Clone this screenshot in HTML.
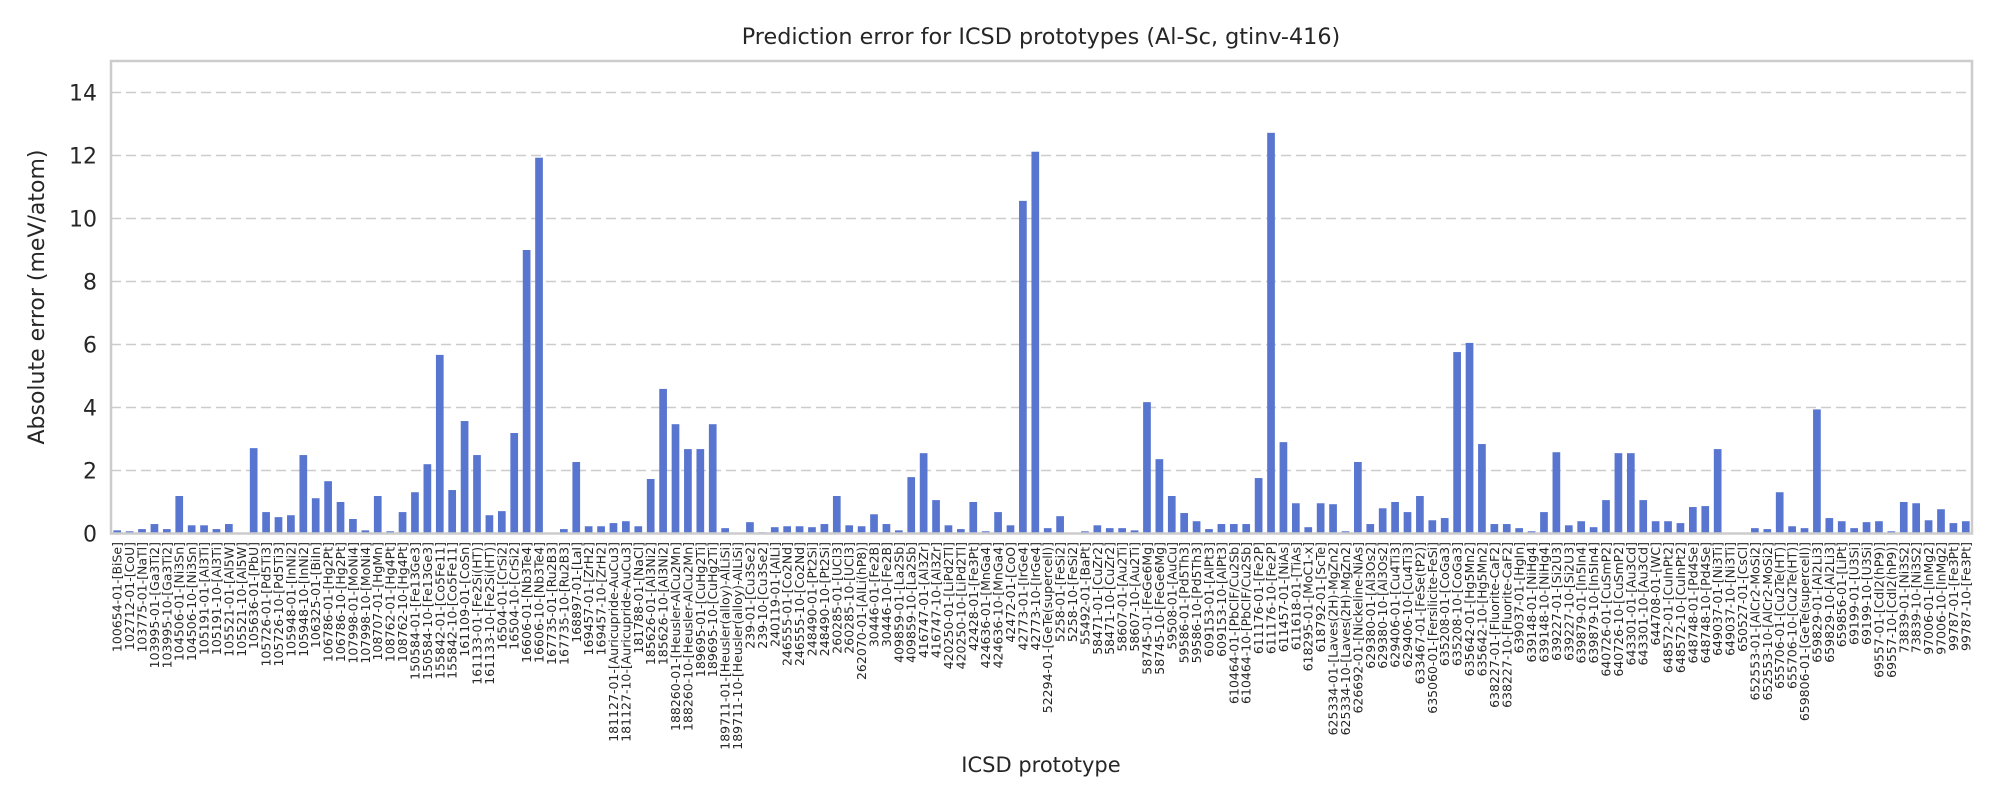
<!DOCTYPE html>
<html><head><meta charset="utf-8"><style>
html,body{margin:0;padding:0;background:#fff;}
svg{display:block;font-family:"DejaVu Sans","Liberation Sans",sans-serif;}
</style></head><body>
<svg id="chart" width="2000" height="800" viewBox="0 0 2000 800" xmlns="http://www.w3.org/2000/svg">
<rect width="2000" height="800" fill="#fff"/>
<text x="1041" y="44" font-size="22.3" text-anchor="middle" fill="#262626">Prediction error for ICSD prototypes (Al-Sc, gtinv-416)</text>
<text transform="translate(44,297) rotate(-90)" font-size="22" text-anchor="middle" fill="#262626">Absolute error (meV/atom)</text>
<text x="1041" y="772" font-size="21" text-anchor="middle" fill="#262626">ICSD prototype</text>
<g id="grid"></g><g id="bars"></g><g id="yticks"></g><g id="xticks"></g>
<rect x="111" y="61" width="1861" height="472.5" fill="none" stroke="#cccccc" stroke-width="2.5"/>
</svg>
<script>
const categories = ["100654-01-[BiSe]","102712-01-[CoU]","103775-01-[NaTl]","103995-01-[Ga3Ti2]","103995-10-[Ga3Ti2]","104506-01-[Ni3Sn]","104506-10-[Ni3Sn]","105191-01-[Al3Ti]","105191-10-[Al3Ti]","105521-01-[Al5W]","105521-10-[Al5W]","105636-01-[PbU]","105726-01-[Pd5Ti3]","105726-10-[Pd5Ti3]","105948-01-[InNi2]","105948-10-[InNi2]","106325-01-[BiIn]","106786-01-[Hg2Pt]","106786-10-[Hg2Pt]","107998-01-[MoNi4]","107998-10-[MoNi4]","108707-01-[HgMn]","108762-01-[Hg4Pt]","108762-10-[Hg4Pt]","150584-01-[Fe13Ge3]","150584-10-[Fe13Ge3]","155842-01-[Co5Fe11]","155842-10-[Co5Fe11]","161109-01-[CoSn]","161133-01-[Fe2Si(HT)]","161133-10-[Fe2Si(HT)]","16504-01-[CrSi2]","16504-10-[CrSi2]","16606-01-[Nb3Te4]","16606-10-[Nb3Te4]","167735-01-[Ru2B3]","167735-10-[Ru2B3]","168897-01-[LaI]","169457-01-[ZrH2]","169457-10-[ZrH2]","181127-01-[Auricupride-AuCu3]","181127-10-[Auricupride-AuCu3]","181788-01-[NaCl]","185626-01-[Al3Ni2]","185626-10-[Al3Ni2]","188260-01-[Heusler-AlCu2Mn]","188260-10-[Heusler-AlCu2Mn]","189695-01-[CuHg2Ti]","189695-10-[CuHg2Ti]","189711-01-[Heusler(alloy)-AlLiSi]","189711-10-[Heusler(alloy)-AlLiSi]","239-01-[Cu3Se2]","239-10-[Cu3Se2]","240119-01-[AlLi]","246555-01-[Co2Nd]","246555-10-[Co2Nd]","248490-01-[Pt2Si]","248490-10-[Pt2Si]","260285-01-[UCl3]","260285-10-[UCl3]","262070-01-[AlLi(hP8)]","30446-01-[Fe2B]","30446-10-[Fe2B]","409859-01-[La2Sb]","409859-10-[La2Sb]","416747-01-[Al3Zr]","416747-10-[Al3Zr]","420250-01-[LiPd2Tl]","420250-10-[LiPd2Tl]","42428-01-[Fe3Pt]","424636-01-[MnGa4]","424636-10-[MnGa4]","42472-01-[CoO]","42773-01-[IrGe4]","42773-10-[IrGe4]","52294-01-[GeTe(supercell)]","5258-01-[FeSi2]","5258-10-[FeSi2]","55492-01-[BaPt]","58471-01-[CuZr2]","58471-10-[CuZr2]","58607-01-[Au2Ti]","58607-10-[Au2Ti]","58745-01-[FeGe6Mg]","58745-10-[FeGe6Mg]","59508-01-[AuCu]","59586-01-[Pd5Th3]","59586-10-[Pd5Th3]","609153-01-[AlPt3]","609153-10-[AlPt3]","610464-01-[PbClF/Cu2Sb]","610464-10-[PbClF/Cu2Sb]","611176-01-[Fe2P]","611176-10-[Fe2P]","611457-01-[NiAs]","611618-01-[TiAs]","618295-01-[MoC1-x]","618792-01-[ScTe]","625334-01-[Laves(2H)-MgZn2]","625334-10-[Laves(2H)-MgZn2]","626692-01-[Nickeline-NiAs]","629380-01-[Al3Os2]","629380-10-[Al3Os2]","629406-01-[Cu4Ti3]","629406-10-[Cu4Ti3]","633467-01-[FeSe(tP2)]","635060-01-[Fersilicite-FeSi]","635208-01-[CoGa3]","635208-10-[CoGa3]","635642-01-[Hg5Mn2]","635642-10-[Hg5Mn2]","638227-01-[Fluorite-CaF2]","638227-10-[Fluorite-CaF2]","639037-01-[HgIn]","639148-01-[NiHg4]","639148-10-[NiHg4]","639227-01-[Si2U3]","639227-10-[Si2U3]","639879-01-[In5In4]","639879-10-[In5In4]","640726-01-[CuSmP2]","640726-10-[CuSmP2]","643301-01-[Au3Cd]","643301-10-[Au3Cd]","644708-01-[WC]","648572-01-[CuInPt2]","648572-10-[CuInPt2]","648748-01-[Pd4Se]","648748-10-[Pd4Se]","649037-01-[Ni3Ti]","649037-10-[Ni3Ti]","650527-01-[CsCl]","652553-01-[AlCr2-MoSi2]","652553-10-[AlCr2-MoSi2]","655706-01-[Cu2Te(HT)]","655706-10-[Cu2Te(HT)]","659806-01-[GeTe(supercell)]","659829-01-[Al2Li3]","659829-10-[Al2Li3]","659856-01-[LiPt]","69199-01-[U3Si]","69199-10-[U3Si]","69557-01-[CdI2(hP9)]","69557-10-[CdI2(hP9)]","73839-01-[Ni3S2]","73839-10-[Ni3S2]","97006-01-[InMg2]","97006-10-[InMg2]","99787-01-[Fe3Pt]","99787-10-[Fe3Pt]"];
const errors = [0.1,0.07,0.14,0.3,0.14,1.19,0.26,0.26,0.14,0.3,0,2.71,0.68,0.52,0.58,2.49,1.12,1.66,1.0,0.46,0.1,1.19,0.07,0.68,1.31,2.2,5.67,1.38,3.57,2.49,0.58,0.71,3.19,9.0,11.93,0,0.14,2.27,0.23,0.23,0.33,0.39,0.23,1.73,4.59,3.47,2.68,2.68,3.47,0.17,0,0.36,0.04,0.2,0.23,0.23,0.2,0.3,1.19,0.26,0.23,0.61,0.3,0.1,1.79,2.55,1.06,0.26,0.14,1.0,0.07,0.68,0.26,10.56,12.12,0.17,0.55,0,0.07,0.26,0.17,0.17,0.1,4.17,2.36,1.19,0.65,0.39,0.14,0.3,0.3,0.3,1.76,12.72,2.9,0.96,0.2,0.96,0.93,0.07,2.27,0.3,0.8,1.0,0.68,1.19,0.42,0.49,5.76,6.05,2.84,0.3,0.3,0.17,0.07,0.68,2.58,0.26,0.39,0.2,1.06,2.55,2.55,1.06,0.39,0.39,0.33,0.84,0.87,2.68,0,0,0.17,0.14,1.31,0.23,0.17,3.94,0.49,0.39,0.17,0.36,0.39,0.07,1.0,0.96,0.42,0.77,0.33,0.39];
const yTickValues = [0,2,4,6,8,10,12,14];
const yTickLabels = ["0","2","4","6","8","10","12","14"];

const NS = "http://www.w3.org/2000/svg";
const X0 = 111, X1 = 1972, Y0 = 533.5, YTOP = 61, YMAX = 15;
const band = (X1 - X0) / categories.length;
function xScale(i){ return X0 + band * (i + 0.5); }
function yScale(v){ return Y0 - (v / YMAX) * (Y0 - YTOP); }
function mk(tag, attrs){ const e = document.createElementNS(NS, tag); for (const k in attrs) e.setAttribute(k, attrs[k]); return e; }

const grid = document.getElementById('grid'), yt = document.getElementById('yticks');
yTickValues.forEach((v, k) => {
  const y = yScale(v);
  if (v > 0) {
    const l = mk('line', {x1: X0, x2: X1, y1: y, y2: y, stroke: '#cccccc', 'stroke-width': 1.6, 'stroke-dasharray': '10,5'});
    
    
    grid.appendChild(l);
  }
  const t = mk('text', {x: X0 - 14, y: y + 8, 'font-size': 22, 'text-anchor': 'end', fill: '#262626'});
  
  
  t.textContent = yTickLabels[k];
  yt.appendChild(t);
});

const bars = document.getElementById('bars'), xt = document.getElementById('xticks');
const bw = band * 0.62;
categories.forEach((c, i) => {
  const v = errors[i];
  const y = yScale(v);
  const r = mk('rect', {x: xScale(i) - bw / 2, y: y, width: bw, height: Math.max(0, Y0 - y), fill: '#5875d0'});
  
  
  bars.appendChild(r);
  const t = mk('text', {transform: 'translate(' + (xScale(i) + 4.5) + ',542) rotate(-90)', 'font-size': 12.5, 'text-anchor': 'end', fill: '#262626'});
  
  
  t.textContent = c;
  xt.appendChild(t);
});
</script>
</body></html>
